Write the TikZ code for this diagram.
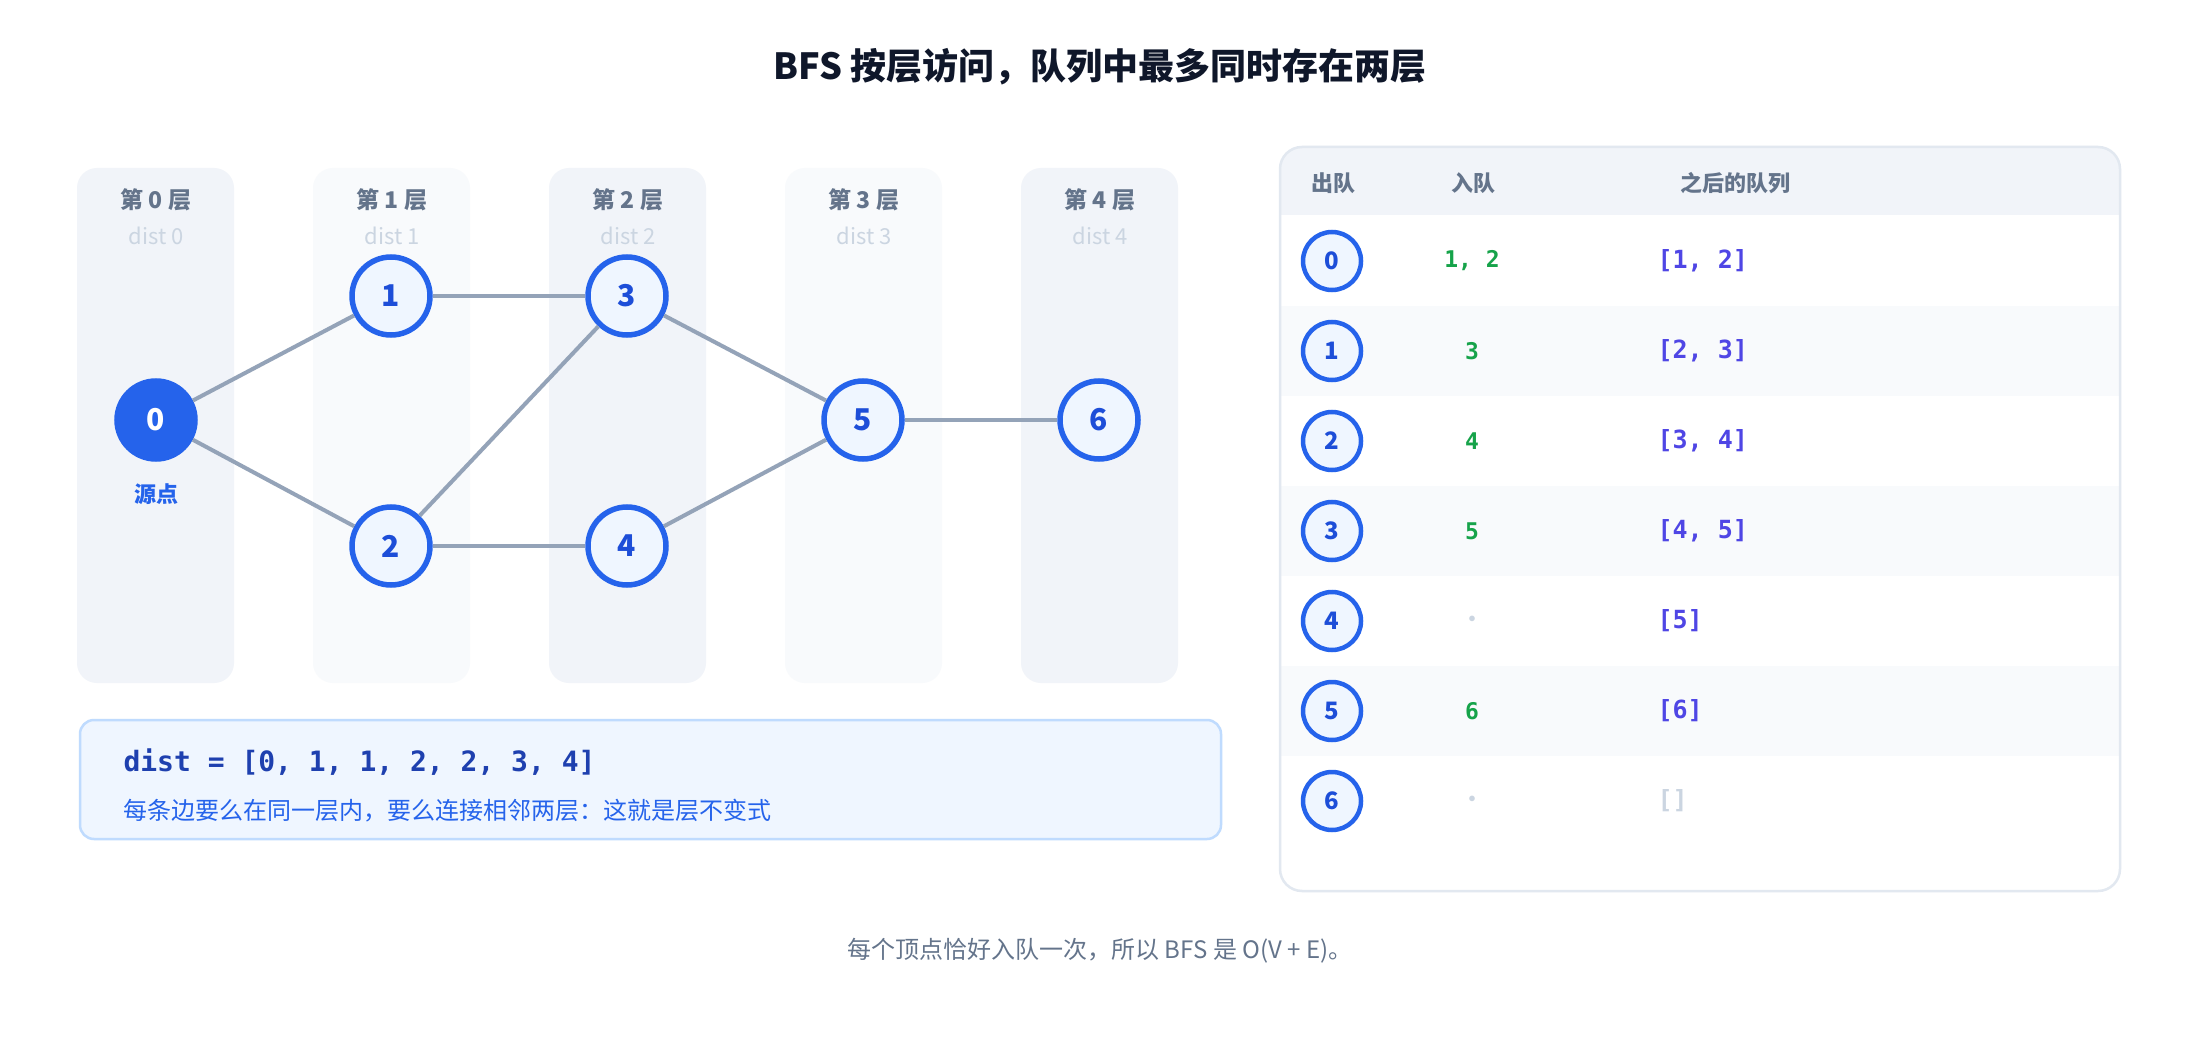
\documentclass[tikz,border=0pt]{standalone}
\usepackage{fontspec}
\setmainfont{Noto Sans CJK SC}
\setmonofont{DejaVu Sans Mono}
\usepackage{tikz}
\usetikzlibrary{calc}
\definecolor{colA}{HTML}{F1F4F9}
\definecolor{colB}{HTML}{F8FAFC}
\definecolor{nodeblue}{HTML}{2563EB}
\definecolor{nodefill}{HTML}{EFF6FF}
\definecolor{nodetext}{HTML}{1D4ED8}
\definecolor{edgegray}{HTML}{94A3B8}
\definecolor{headgray}{HTML}{64748B}
\definecolor{faint}{HTML}{CBD5E1}
\definecolor{boxline}{HTML}{BFDBFE}
\definecolor{darkblue}{HTML}{1E40AF}
\definecolor{enqgreen}{HTML}{16A34A}
\definecolor{queueviolet}{HTML}{4F46E5}
\definecolor{panelline}{HTML}{E2E8F0}
\definecolor{titlecol}{HTML}{0F172A}
\tikzset{
  vert/.style={circle, draw=nodeblue, line width=5.5pt, fill=nodefill, text=nodetext,
    minimum size=78pt, inner sep=0pt, font=\fontsize{30}{34}\selectfont\bfseries},
  src/.style={vert, fill=nodeblue, text=white},
  small vert/.style={vert, minimum size=58pt, line width=4.5pt, font=\fontsize{24}{28}\selectfont\bfseries},
  edge/.style={edgegray, line width=4pt},
  layerhead/.style={text=headgray, font=\fontsize{23}{26}\selectfont\bfseries},
  layersub/.style={text=faint, font=\fontsize{22}{26}\selectfont},
  colhead/.style={text=headgray, font=\fontsize{22}{26}\selectfont\bfseries},
  enq/.style={text=enqgreen, font=\fontsize{23}{26}\selectfont\ttfamily\bfseries},
  queue/.style={text=queueviolet, anchor=west, font=\fontsize{25}{28}\selectfont\ttfamily\bfseries},
}
\begin{document}
\begin{tikzpicture}[x=1pt, y=-1pt]
  \useasboundingbox[fill=white] (0,0) rectangle (2200,1040);
  \node[text=titlecol, font=\fontsize{36}{40}\selectfont\bfseries] (title) at (1100,67) {BFS 按层访问，队列中最多同时存在两层};
  % layer columns
  \foreach \i/\c in {0/colA,1/colB,2/colA,3/colB,4/colA} {
    \fill[\c, rounded corners=20pt] ({77+236*\i},168) rectangle ({234+236*\i},683);
    \node[layerhead] (lh\i) at ({156+236*\i},200) {第 \i\ 层};
    \node[layersub] (ls\i) at ({156+236*\i},236) {dist \i};
  }
  % graph
  \node[src] (v0) at (156,420) {0};
  \node[vert] (v1) at (391,296) {1};
  \node[vert] (v2) at (391,546) {2};
  \node[vert] (v3) at (627,296) {3};
  \node[vert] (v4) at (627,546) {4};
  \node[vert] (v5) at (863,420) {5};
  \node[vert] (v6) at (1099,420) {6};
  \node[text=nodeblue, font=\fontsize{22}{26}\selectfont\bfseries] (srclabel) at (156,494) {源点};
  \foreach \a/\b in {v0/v1,v0/v2,v1/v3,v2/v3,v2/v4,v3/v5,v4/v5,v5/v6}
    \draw[edge] (\a) -- (\b);
  % invariant box
  \draw[boxline, fill=nodefill, line width=2.5pt, rounded corners=14pt] (80,720) rectangle (1221,839);
  \node[anchor=west, text=darkblue, font=\fontsize{28}{32}\selectfont\ttfamily\bfseries] (distline) at (120,762) {dist = [0, 1, 1, 2, 2, 3, 4]};
  \node[anchor=west, text=nodeblue, font=\fontsize{24}{28}\selectfont] (invline) at (120,811) {每条边要么在同一层内，要么连接相邻两层：这就是层不变式};
  % queue table
  \begin{scope}
    \clip[rounded corners=22pt] (1280,147) rectangle (2120,891);
    \fill[colA] (1280,147) rectangle (2120,215);
    \foreach \r in {1,3,5}
      \fill[colB] (1280,{216+90*\r}) rectangle (2120,{306+90*\r});
  \end{scope}
  \draw[panelline, line width=2.5pt, rounded corners=22pt] (1280,147) rectangle (2120,891);
  \node[colhead] (hout) at (1333,183) {出队};
  \node[colhead] (hin) at (1473,183) {入队};
  \node[colhead] (hq) at (1735,183) {之后的队列};
  \foreach \r/\e/\q in {0/{1, 2}/{[1, 2]},1/3/{[2, 3]},2/4/{[3, 4]},3/5/{[4, 5]},5/6/{[6]}} {
    \node[enq] (e\r) at (1472,{261+90*\r}) {\e};
    \node[queue] (q\r) at (1654,{261+90*\r}) {\q};
  }
  \foreach \r in {4,6}
    \node[text=faint, font=\fontsize{20}{24}\selectfont\bfseries] (e\r) at (1472,{261+90*\r}) {·};
  \node[queue] (q4) at (1654,621) {[5]};
  \node[queue, text=faint] (q6) at (1654,801) {[]};
  \foreach \r in {0,...,6}
    \node[small vert] (d\r) at (1332,{261+90*\r}) {\r};
  % footer
  \node[text=headgray, font=\fontsize{24}{28}\selectfont] (footer) at (1100,951) {每个顶点恰好入队一次，所以 BFS 是 O(V + E)。};
\end{tikzpicture}
\end{document}
